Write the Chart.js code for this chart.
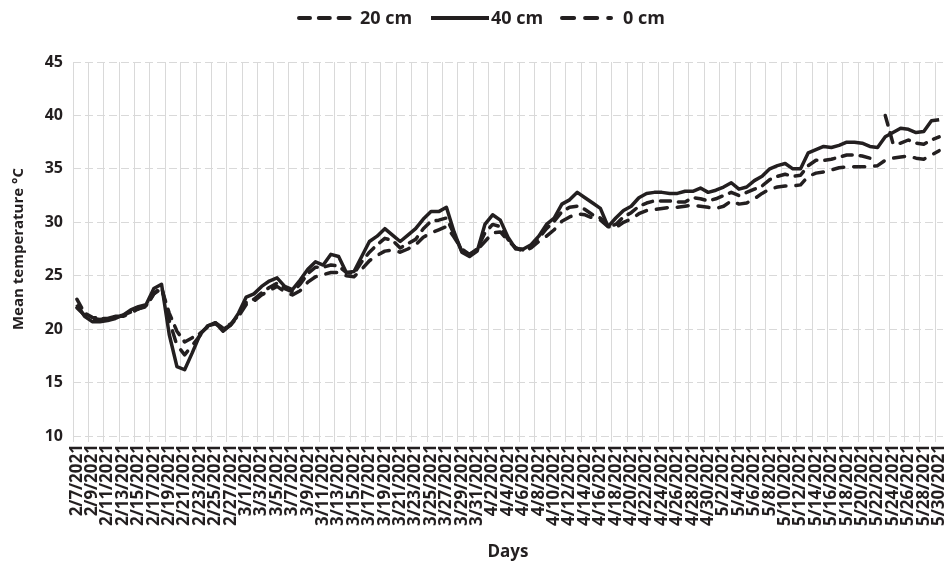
<!DOCTYPE html>
<html>
<head>
<meta charset="utf-8">
<script src="https://cdn.jsdelivr.net/npm/chart.js@4.4.0/dist/chart.umd.min.js"></script>
<style>
  html, body { margin: 0; padding: 0; background: #fff; overflow: hidden; }
</style>
</head>
<body>
<canvas id="tempChart" width="944" height="562"></canvas>
<script>
// one category per day, 2/7/2021 .. 5/30/2021
const days = [];
for (let d = new Date(2021, 1, 7); d <= new Date(2021, 4, 30); d.setDate(d.getDate() + 1)) {
    days.push((d.getMonth() + 1) + '/' + d.getDate() + '/' + d.getFullYear());
}

// 5/22 missing in the 20 cm series
const temp20 = [
    22.8, 21.5, 21.1, 21.0, 21.0, 21.2, 21.3, 21.6, 21.9, 22.2,
    23.3, 23.8, 21.5, 19.8, 18.8, 19.2, 19.6, 20.2, 20.6, 20.1,
    20.5, 21.3, 22.5, 22.8, 23.4, 23.9, 24.3, 23.8, 23.5, 24.2,
    25.2, 25.8, 25.8, 26.0, 25.9, 25.3, 25.2, 26.3, 27.2, 27.9,
    28.5, 28.3, 27.6, 28.0, 28.4, 29.4, 30.1, 30.2, 30.4, 28.9,
    27.3, 27.0, 27.5, 29.0, 29.8, 29.6, 28.4, 27.6, 27.4, 27.7,
    28.5, 29.4, 30.1, 31.0, 31.4, 31.5, 31.2, 30.7, 30.4, 29.6,
    29.8, 30.5, 30.9, 31.5, 31.8, 32.0, 32.0, 32.0, 31.9, 31.9,
    32.3, 32.2, 32.0, 32.2, 32.5, 32.8, 32.5, 32.8, 33.1, 33.4,
    34.0, 34.3, 34.5, 34.3, 34.4, 35.3, 35.8, 35.8, 35.9, 36.1,
    36.3, 36.3, 36.2, 36.0, null, 40.0, 37.4, 37.4, 37.7, 37.4,
    37.3, 37.7, 38.0
];
const temp40 = [
    22.3, 21.2, 20.7, 20.7, 20.8, 21.0, 21.3, 21.8, 22.1, 22.3,
    23.8, 24.2, 19.5, 16.5, 16.2, 17.8, 19.5, 20.3, 20.6, 19.8,
    20.4, 21.5, 23.0, 23.3, 24.0, 24.5, 24.8, 24.0, 23.7, 24.6,
    25.6, 26.3, 26.0, 27.0, 26.8, 25.3, 25.4, 26.8, 28.2, 28.7,
    29.4, 28.8, 28.2, 28.8, 29.4, 30.3, 31.0, 31.0, 31.4, 29.1,
    27.2, 26.8, 27.3, 29.8, 30.7, 30.2, 28.6, 27.5, 27.5, 27.9,
    28.7, 29.8, 30.4, 31.7, 32.1, 32.8, 32.3, 31.8, 31.3, 29.6,
    30.4, 31.1, 31.5, 32.3, 32.7, 32.8, 32.8, 32.7, 32.7, 32.9,
    32.9, 33.2, 32.8, 33.0, 33.3, 33.7, 33.1, 33.3, 33.9, 34.3,
    35.0, 35.3, 35.5, 35.0, 35.0, 36.5, 36.8, 37.1, 37.0, 37.2,
    37.5, 37.5, 37.4, 37.1, 37.0, 38.0, 38.4, 38.8, 38.7, 38.4,
    38.5, 39.5, 39.6
];
const temp0 = [
    22.0, 21.3, 21.0, 20.9, 21.0, 21.2, 21.2, 21.5, 21.9, 22.1,
    23.3, 24.0, 20.8, 18.5, 17.6, 18.5, 19.4, 20.3, 20.5, 20.0,
    20.4, 21.2, 22.3, 22.6, 23.2, 23.6, 24.0, 23.5, 23.2, 23.6,
    24.4, 24.9, 25.1, 25.3, 25.3, 25.0, 24.9, 25.6, 26.4, 26.9,
    27.3, 27.4, 27.2, 27.5, 27.9, 28.6, 29.0, 29.3, 29.6, 28.6,
    27.5, 27.0, 27.4, 28.2, 29.0, 29.1, 28.3, 27.6, 27.3, 27.6,
    28.2, 28.7, 29.3, 30.1, 30.5, 30.8, 30.7, 30.4, 30.2, 29.6,
    29.5, 30.0, 30.3, 30.8, 31.1, 31.2, 31.3, 31.4, 31.4, 31.5,
    31.6, 31.5, 31.4, 31.3, 31.5, 32.0, 31.7, 31.8, 32.2, 32.7,
    33.1, 33.3, 33.4, 33.4, 33.5, 34.3, 34.6, 34.7, 34.9, 35.1,
    35.2, 35.2, 35.2, 35.2, 35.3, 35.8, 36.0, 36.1, 36.2, 36.0,
    35.9, 36.3, 36.7
];

const yMin = 10, yMax = 45, yStep = 5;

const ink = '#231f20';
const gridGray = '#d9d9d9';
const fontFamily = '"Open Sans", "DejaVu Sans", sans-serif';

// legend row drawn by hand so the line samples keep their dashes
const legendSlots = [
    { x0: 299, x1: 352, tx: 360 },
    { x0: 431, x1: 489, tx: 491 },
    { x0: 562, x1: 611, tx: 623 }
];
const lineLegend = {
    id: 'lineLegend',
    afterDraw(chart) {
        const c = chart.ctx;
        const y = 18;
        c.save();
        c.font = 'bold 18px ' + fontFamily;
        c.textBaseline = 'middle';
        c.fillStyle = ink;
        chart.data.datasets.forEach((ds, i) => {
            const s = legendSlots[i];
            c.strokeStyle = ds.borderColor;
            c.lineWidth = 4;
            c.lineCap = ds.borderCapStyle || 'butt';
            c.setLineDash(ds.borderDash ? ds.borderDash.map((v) => v * 1.1) : []);
            c.beginPath();
            c.moveTo(s.x0, y);
            c.lineTo(s.x1, y);
            c.stroke();
            c.fillText(ds.label, s.tx, y + 1);
        });
        c.restore();
    }
};

const ctx = document.getElementById('tempChart').getContext('2d');

new Chart(ctx, {
    type: 'line',
    data: {
        labels: days,
        datasets: [
            {
                label: '20 cm',
                data: temp20,
                borderColor: ink,
                borderWidth: 3.5,
                borderDash: [10, 8],
                borderCapStyle: 'round',
                borderJoinStyle: 'round',
                pointRadius: 0,
                spanGaps: false,
                tension: 0
            },
            {
                label: '40 cm',
                data: temp40,
                borderColor: ink,
                borderWidth: 3.5,
                borderJoinStyle: 'round',
                pointRadius: 0,
                tension: 0
            },
            {
                label: '0 cm',
                data: temp0,
                borderColor: ink,
                borderWidth: 3.5,
                borderDash: [11, 10],
                borderCapStyle: 'round',
                borderJoinStyle: 'round',
                pointRadius: 0,
                tension: 0
            }
        ]
    },
    options: {
        responsive: false,
        animation: false,
        layout: { padding: { top: 62, right: 1, left: 0, bottom: 0 } },
        plugins: {
            legend: { display: false },
            tooltip: { enabled: false }
        },
        scales: {
            x: {
                offset: true,
                grid: {
                    offset: true,
                    color: (c) => (c.index % 2 === 0 ? gridGray : 'rgba(0,0,0,0)'),
                    lineWidth: 1,
                    tickLength: 6
                },
                border: { display: false },
                ticks: {
                    autoSkip: false,
                    minRotation: 90,
                    maxRotation: 90,
                    padding: 2,
                    color: ink,
                    font: { family: fontFamily, size: 17, weight: 'bold' },
                    callback: (v, i) => (i % 2 === 0 ? days[i] : '')
                },
                title: {
                    display: true,
                    text: 'Days',
                    color: ink,
                    font: { family: fontFamily, size: 17, weight: 'bold' },
                    padding: { top: 0, bottom: 0 }
                },
                afterFit: (s) => { s.height = 126; s.paddingLeft = 0; s.paddingRight = 0; }
            },
            y: {
                min: yMin,
                max: yMax,
                ticks: {
                    stepSize: yStep,
                    padding: 10,
                    color: ink,
                    font: { family: fontFamily, size: 16, weight: 'bold' }
                },
                grid: { color: gridGray, lineWidth: 1, drawTicks: false },
                border: { display: false, dash: [8, 4] },
                title: {
                    display: true,
                    text: 'Mean temperature °C',
                    color: ink,
                    font: { family: fontFamily, size: 15, weight: 'bold' },
                    padding: { top: 10, bottom: 0 }
                },
                afterFit: (s) => { s.width = 73; s.paddingTop = 0; }
            }
        }
    },
    plugins: [lineLegend]
});
</script>
</body>
</html>
